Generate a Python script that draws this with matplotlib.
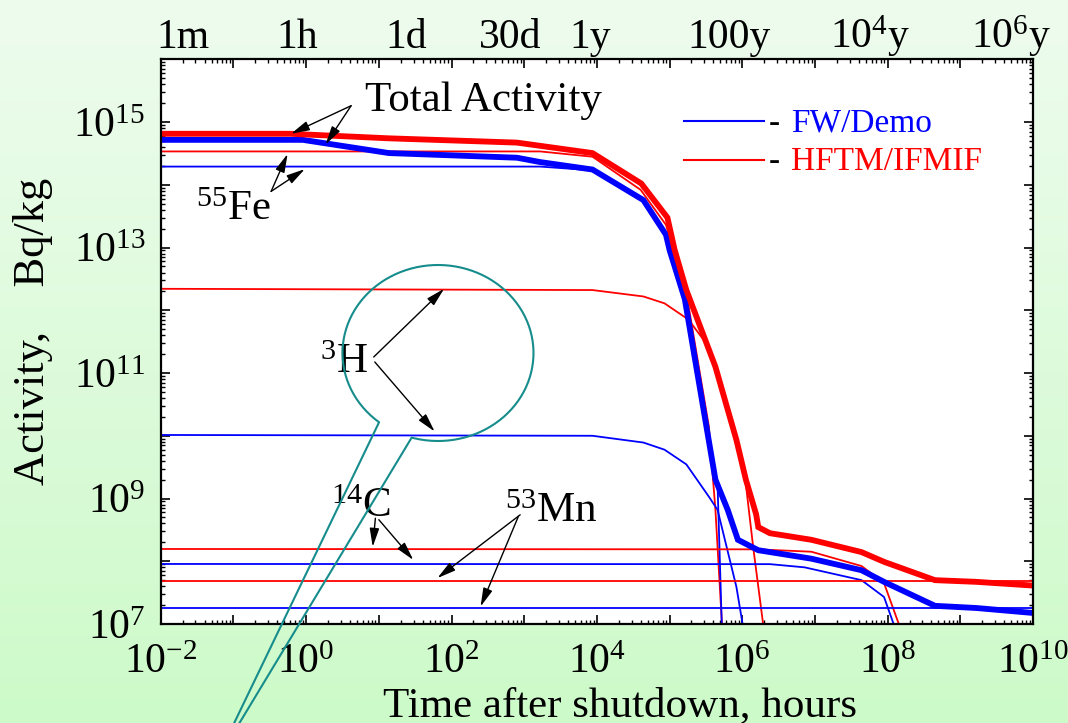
import numpy as np
import matplotlib
matplotlib.use("Agg")
import matplotlib.pyplot as plt
from matplotlib.ticker import LogLocator, FuncFormatter, NullFormatter
from matplotlib.lines import Line2D

plt.rcParams["font.family"] = ["Liberation Serif", "DejaVu Serif"]
plt.rcParams["mathtext.fontset"] = "custom"
plt.rcParams["mathtext.rm"] = "Liberation Serif"
plt.rcParams["mathtext.it"] = "Liberation Serif:italic"

# Activity vs. time after shutdown (hours, Bq/kg)
red_total_t = [0.01, 0.6, 13.8, 794, 1200, 8700, 40700, 93300, 117500, 170000,
               426600, 831800, 1.12e6, 1.55e6, 1.66e6, 2.4e6, 8.9e6, 4.37e7,
               8.9e7, 4.47e8, 1.66e9, 1.0e10]
red_total_a = [6.5e14, 6.5e14, 5.5e14, 4.7e14, 4.4e14, 3.2e14, 1.05e14, 3.0e13,
               9.1e12, 2.1e12, 1.26e11, 8.5e9, 2.0e9, 5.6e8, 3.5e8, 2.8e8, 2.2e8,
               1.4e8, 9.8e7, 5.0e7, 4.7e7, 4.1e7]

blue_total_t = [0.01, 0.9, 13.8, 794, 1660, 8700, 43600, 89100, 1.0e5, 1.62e5,
                4.27e5, 6.3e5, 8.7e5, 1.66e6, 8.9e6, 4.37e7, 8.9e7, 4.47e8,
                1.66e9, 1.0e10]
blue_total_a = [5.2e14, 5.2e14, 3.2e14, 2.7e14, 2.3e14, 1.75e14, 5.7e13, 1.6e13,
                9.1e12, 1.5e12, 2.0e9, 6.6e8, 2.2e8, 1.5e8, 1.1e8, 7.2e7, 4.7e7,
                1.95e7, 1.8e7, 1.5e7]

red_fe55_t = [0.01, 1660, 8700, 40000, 89100, 1.7e5, 3.47e5, 4.27e5, 5.25e5, 5.75e5]
red_fe55_a = [3.4e14, 3.4e14, 2.8e14, 8.3e13, 2.3e13, 1.9e12, 1.4e10, 6.6e8, 1.0e7, 3.0e6]

blue_fe55_t = [0.01, 1660, 8700, 43600, 89100, 1.62e5, 3.3e5, 4.57e5, 5.25e5, 5.5e5]
blue_fe55_a = [1.95e14, 1.95e14, 1.7e14, 5.5e13, 1.5e13, 1.4e12, 1.1e10, 1.6e9, 8.0e6, 3.0e6]

red_h3_t = [0.01, 8700, 43600, 85100, 1.82e5, 3.47e5, 4.27e5, 8.3e5, 1.1e6, 1.41e6, 1.95e6, 2.1e6]
red_h3_a = [2.2e12, 2.1e12, 1.66e12, 1.29e12, 7.1e11, 2.6e11, 1.26e11, 8.5e9, 2.0e9, 1.7e8, 9.3e6, 3.0e6]

blue_h3_t = [0.01, 8700, 43600, 85100, 1.7e5, 3.47e5, 4.57e5, 8.3e5, 1.02e6, 1.1e6]
blue_h3_a = [1.03e10, 1.0e10, 7.8e9, 6.0e9, 3.5e9, 1.07e9, 6.6e8, 3.9e7, 9.3e6, 5.0e6]

red_c14_t = [0.01, 1.6e6, 8.9e6, 4.37e7, 8.9e7, 1.45e8, 1.6e8]
red_c14_a = [1.57e8, 1.55e8, 1.42e8, 8.4e7, 4.5e7, 9.4e6, 5.0e6]

blue_c14_t = [0.01, 2.4e6, 7.2e6, 4.37e7, 8.9e7, 1.23e8, 1.35e8]
blue_c14_a = [9.06e7, 9.0e7, 8.0e7, 5.0e7, 2.7e7, 9.4e6, 5.0e6]

red_mn53_t = [0.01, 1.0e10]
red_mn53_a = [4.9e7, 4.9e7]
blue_mn53_t = [0.01, 1.0e10]
blue_mn53_a = [1.78e7, 1.78e7]

# Top axis: time units and where they sit (hours)
top_tick_hours = [0.02, 0.76, 24, 650, 8100, 6.6e5, 5.8e7, 4.9e9]
top_tick_labels = ["1m", "1h", "1d", "30d", "1y", "100y",
                   r"$\mathregular{10^4y}$", r"$\mathregular{10^6y}$"]

W, H = 1068, 723
RED = "#ff0000"
BLUE = "#0000ff"
TEAL = "#168c8c"

fig = plt.figure(figsize=(W / 100, H / 100), dpi=100)

# light green gradient background
bg = fig.add_axes([0, 0, 1, 1], zorder=-10)
g = np.linspace(0, 1, 256)[:, None, None]
top_c = np.array([238, 252, 238]) / 255
bot_c = np.array([205, 250, 201]) / 255
bg.imshow(top_c * (1 - g) + bot_c * g, aspect="auto", extent=[0, 1, 0, 1])
bg.axis("off")

ax = fig.add_axes([0.1505, 0.1369, 0.8168, 0.7811])
ax.set_facecolor("white")
ax.set_xscale("log")
ax.set_yscale("log")
ax.set_xlim(1e-2, 1e10)
ax.set_ylim(1e7, 1e16)

# thin lines: individual nuclides
thin = 1.3
for t, a, c in [
    (red_fe55_t, red_fe55_a, RED), (blue_fe55_t, blue_fe55_a, BLUE),
    (red_h3_t, red_h3_a, RED), (blue_h3_t, blue_h3_a, BLUE),
    (red_c14_t, red_c14_a, RED), (blue_c14_t, blue_c14_a, BLUE),
    (red_mn53_t, red_mn53_a, RED), (blue_mn53_t, blue_mn53_a, BLUE),
]:
    ax.plot(t, a, color=c, lw=thin)

# thick lines: total activity
ax.plot(blue_total_t, blue_total_a, color=BLUE, lw=4.2, solid_joinstyle="miter")
ax.plot(red_total_t, red_total_a, color=RED, lw=4.2, solid_joinstyle="miter")

# ticks
ax.xaxis.set_major_locator(LogLocator(base=10, numticks=30))
ax.xaxis.set_minor_locator(LogLocator(base=10, subs=np.arange(2, 10), numticks=30))
ax.yaxis.set_major_locator(LogLocator(base=10, numticks=30))
ax.yaxis.set_minor_locator(LogLocator(base=10, subs=np.arange(2, 10), numticks=30))


def exp_label(keep_odd):
    def f(v, pos):
        e = int(round(np.log10(v)))
        if (e % 2 == 1) == keep_odd:
            return r"$\mathregular{10^{%d}}$" % e
        return ""
    return f


ax.xaxis.set_major_formatter(FuncFormatter(exp_label(False)))
ax.yaxis.set_major_formatter(FuncFormatter(exp_label(True)))
ax.xaxis.set_minor_formatter(NullFormatter())
ax.yaxis.set_minor_formatter(NullFormatter())

ax.tick_params(which="both", direction="in", top=True, right=True, colors="black")
ax.tick_params(which="major", length=6.5, width=1.2, labelsize=30)
ax.tick_params(which="minor", length=3.2, width=1.0)
ax.tick_params(axis="x", pad=14)
ax.tick_params(axis="y", pad=11)
for s in ax.spines.values():
    s.set_linewidth(1.6)

# top time-unit labels
for hx, lab in zip(top_tick_hours, top_tick_labels):
    ax.text(hx, 1.02, lab, transform=ax.get_xaxis_transform(),
            ha="center", va="baseline", fontsize=30)

# axis titles
fig.text(620 / W, 1 - 716 / H, "Time after shutdown, hours",
         ha="center", va="baseline", fontsize=31)
fig.text(33 / W, 1 - 331 / H, "Activity,    Bq/kg", rotation=90,
         ha="center", va="center", fontsize=32)

# legend
ax.plot([0.600, 0.691], [0.891, 0.891], color=BLUE, lw=1.5, transform=ax.transAxes)
ax.plot([0.600, 0.691], [0.822, 0.822], color=RED, lw=1.5, transform=ax.transAxes)
for yb, lab, c in [(0.8718, "FW/Demo", BLUE), (0.804, "HFTM/IFMIF", RED)]:
    ax.text(0.7037, yb, "-", transform=ax.transAxes, ha="center", va="baseline",
            fontsize=24)
    ax.text(0.7224, yb, lab, transform=ax.transAxes, ha="left", va="baseline",
            fontsize=24, color=c)

# labels and arrows
ax.text(277, 1.48e15, "Total Activity", ha="center", va="baseline", fontsize=31)
ax.text(0.0306, 2.75e13, r"$\mathregular{^{55}Fe}$", ha="left", va="baseline", fontsize=31)
ax.text(1.57, 1.0e11, r"$\mathregular{^{3}H}$", ha="left", va="baseline", fontsize=31)
ax.text(2.18, 5.1e8, r"$\mathregular{^{14}C}$", ha="left", va="baseline", fontsize=31)
ax.text(538, 4.3e8, r"$\mathregular{^{53}Mn}$", ha="left", va="baseline", fontsize=31)

arrows = [
    ((4.16, 1.82e15), (0.62, 6.5e14)),
    ((4.16, 1.82e15), (1.85, 4.4e14)),
    ((0.33, 7.85e13), (0.556, 3.1e14)),
    ((0.33, 7.85e13), (0.96, 1.78e14)),
    ((8.5, 1.8e11), (79, 2.2e12)),
    ((8.8, 1.5e11), (58.6, 1.17e10)),
    ((8.97, 4.85e8), (8.24, 1.7e8)),
    ((10.0, 4.6e8), (29.8, 1.05e8)),
    ((880, 5.5e8), (64, 5.4e7)),
    ((832, 5.2e8), (251, 1.9e7)),
]
for tail, head in arrows:
    ax.annotate("", xy=head, xytext=tail,
                arrowprops=dict(arrowstyle="-|>,head_length=0.7,head_width=0.18",
                                color="black", lw=1.0, shrinkA=0, shrinkB=0,
                                mutation_scale=16))

# teal callout bubble around the 3H label (figure pixel geometry)
cx, cy, rx, ry = 438, 353, 95.5, 88
th = np.radians(np.linspace(231.9, -106, 200))
arc_x = cx + rx * np.cos(th)
arc_y = cy - ry * np.sin(th)
px = np.concatenate([[226.0], arc_x, [229.2]])
py = np.concatenate([[740.0], arc_y, [740.0]])
fig.add_artist(Line2D(px / W, 1 - py / H, transform=fig.transFigure,
                      color=TEAL, lw=1.5, zorder=5))

fig.savefig("out.png", dpi=100)
